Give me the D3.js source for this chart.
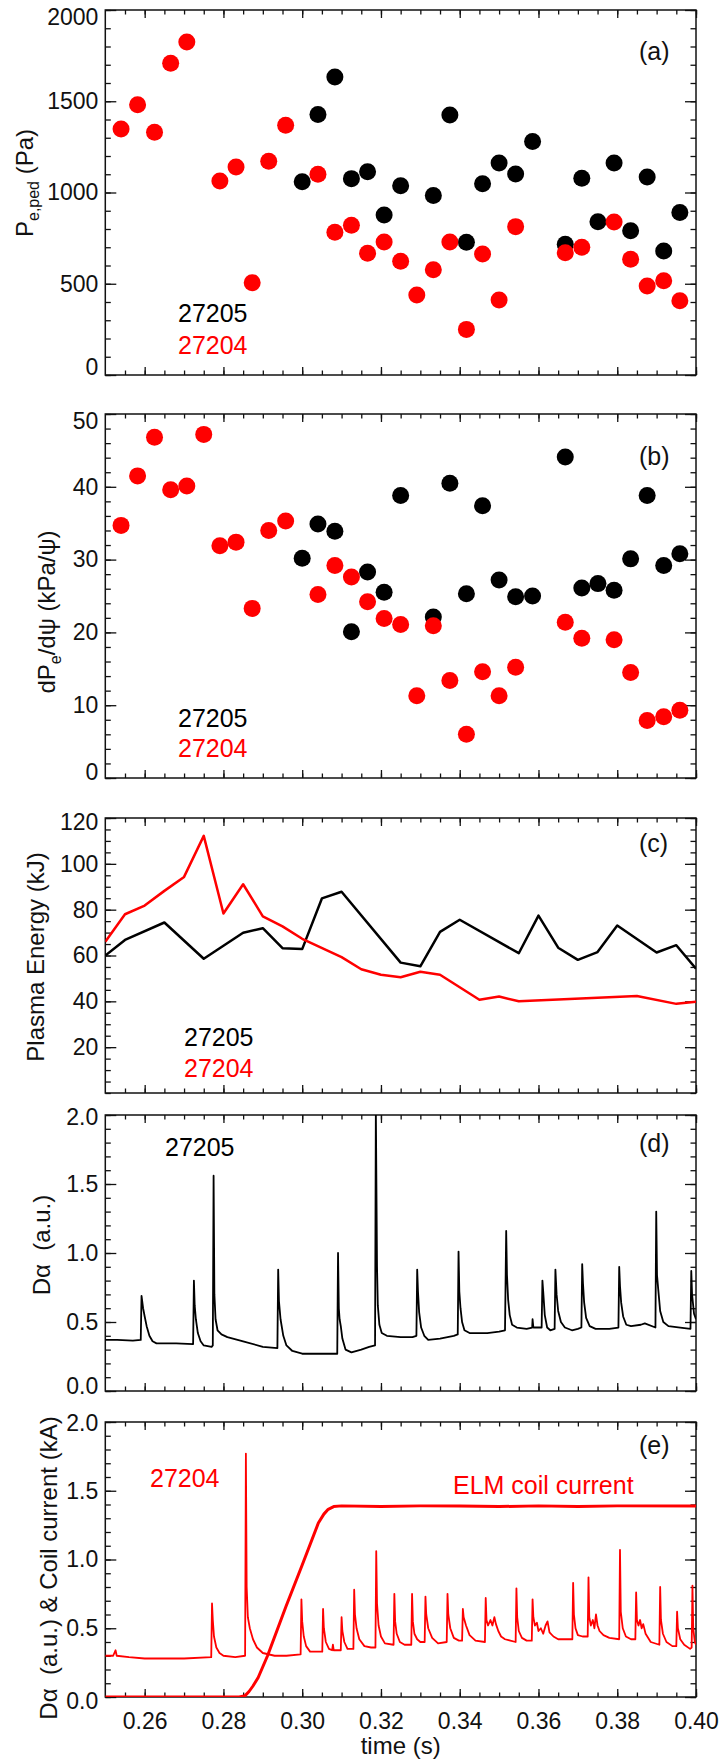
<!DOCTYPE html>
<html>
<head>
<meta charset="utf-8">
<script src="https://cdn.jsdelivr.net/npm/d3@7"></script>
<style>
  body { margin: 0; background: #fff; }
  svg { display: block; }
  text { white-space: pre; }
</style>
</head>
<body>
<svg id="chart" width="723" height="1762"></svg>
<script>
// shots
const shotRef = "27205";
const shotCoil = "27204";

// x axis (time, s)
const xDomain = [0.25, 0.40];
const xMajor = [0.26, 0.28, 0.30, 0.32, 0.34, 0.36, 0.38, 0.40];

// (a) P_e,ped (Pa) and (b) dPe/dpsi (kPa/psi) — ELM-resolved points
const t27205 = [0.3000, 0.3040, 0.3083, 0.3125, 0.3166, 0.3208, 0.3250, 0.3333, 0.3375, 0.3417, 0.3458,
  0.3500, 0.3542, 0.3585, 0.3668, 0.3710, 0.3751, 0.3792, 0.3834, 0.3876, 0.3918, 0.3959];
const pped27205 = [1059, 1428, 1633, 1076, 1114, 877, 1037, 984, 1425, 727, 1048,
  1162, 1101, 1279, 716, 1078, 840, 1162, 791, 1085, 679, 891];
const grad27205 = [30.2, 34.9, 33.9, 20.1, 28.3, 25.5, 38.8, 22.1, 40.5, 25.3, 37.4,
  27.2, 24.9, 25.0, 44.1, 26.1, 26.7, 25.8, 30.1, 38.8, 29.2, 30.8];

const tPped27204 = [0.2540, 0.2582, 0.2625, 0.2666, 0.2707, 0.2791, 0.2832, 0.2873, 0.2915, 0.2958,
  0.3040, 0.3083, 0.3125, 0.3166, 0.3208, 0.3250, 0.3291, 0.3333, 0.3375, 0.3417, 0.3458, 0.3500,
  0.3542, 0.3668, 0.3710, 0.3792, 0.3834, 0.3876, 0.3918, 0.3959];
const pped27204 = [1348, 1481, 1330, 1708, 1825, 1063, 1140, 506, 1171, 1368,
  1100, 782, 820, 667, 729, 623, 438, 577, 729, 250, 663, 411,
  813, 670, 700, 838, 634, 488, 517, 407];
const tGrad27204 = [0.2540, 0.2582, 0.2625, 0.2666, 0.2707, 0.2750, 0.2791, 0.2832, 0.2873, 0.2915, 0.2958,
  0.3040, 0.3083, 0.3125, 0.3166, 0.3208, 0.3250, 0.3291, 0.3333, 0.3375, 0.3417, 0.3458, 0.3500,
  0.3542, 0.3668, 0.3710, 0.3792, 0.3834, 0.3876, 0.3918, 0.3959];
const grad27204 = [34.7, 41.5, 46.8, 39.6, 40.1, 47.2, 31.9, 32.4, 23.3, 34.0, 35.3,
  25.2, 29.2, 27.6, 24.2, 21.9, 21.1, 11.3, 20.9, 13.4, 6.0, 14.6, 11.3,
  15.2, 21.4, 19.2, 19.0, 14.5, 7.9, 8.4, 9.3];

// (c) plasma energy (kJ)
const tWp27205 = [0.250, 0.255, 0.265, 0.275, 0.285, 0.290, 0.295, 0.300, 0.305, 0.310, 0.325, 0.330,
  0.335, 0.340, 0.355, 0.360, 0.365, 0.370, 0.375, 0.380, 0.390, 0.395, 0.400];
const wp27205 = [60.0, 66.8, 74.4, 58.6, 69.9, 71.9, 63.2, 62.8, 84.9, 87.8, 56.9, 55.3,
  70.3, 75.6, 61.0, 77.4, 63.4, 58.1, 61.5, 73.1, 61.3, 64.5, 54.2];
const tWp27204 = [0.250, 0.255, 0.260, 0.265, 0.270, 0.275, 0.280, 0.285, 0.290, 0.295, 0.300, 0.310,
  0.315, 0.320, 0.325, 0.330, 0.335, 0.345, 0.350, 0.355, 0.385, 0.395, 0.400];
const wp27204 = [66.0, 78.0, 81.8, 88.2, 94.3, 112.2, 78.3, 91.1, 77.1, 72.7, 67.3, 59.3,
  54.0, 51.6, 50.5, 52.9, 51.6, 40.7, 42.1, 40.0, 42.3, 38.9, 39.8];

// (d) D-alpha 27205 [t, a.u.]
const dalpha27205 = [
  [0.2500, 0.37], [0.2530, 0.37], [0.2570, 0.365], [0.2590, 0.37],
  [0.2592, 0.69], [0.2596, 0.60], [0.2600, 0.54], [0.2605, 0.47], [0.2612, 0.40], [0.2620, 0.36], [0.2630, 0.345],
  [0.2680, 0.345], [0.2723, 0.34],
  [0.2725, 0.80], [0.2727, 0.62], [0.2730, 0.52], [0.2735, 0.42], [0.2742, 0.36], [0.2750, 0.33], [0.2770, 0.32], [0.2773, 0.33],
  [0.2775, 1.56], [0.2777, 0.70], [0.2780, 0.52], [0.2785, 0.44], [0.2795, 0.41], [0.2810, 0.39], [0.2850, 0.36], [0.2900, 0.32], [0.2937, 0.31],
  [0.2939, 0.88], [0.2941, 0.65], [0.2945, 0.52], [0.2952, 0.40], [0.2960, 0.33], [0.2975, 0.29], [0.3000, 0.27], [0.3050, 0.27], [0.3089, 0.27],
  [0.3091, 1.00], [0.3093, 0.60], [0.3095, 0.52], [0.3098, 0.47], [0.3102, 0.38], [0.3110, 0.30], [0.3125, 0.28], [0.3150, 0.30], [0.3170, 0.32], [0.3185, 0.33],
  [0.3187, 2.05], [0.3190, 0.90], [0.3192, 0.62], [0.3196, 0.48], [0.3202, 0.42], [0.3215, 0.40], [0.3250, 0.39], [0.3280, 0.39], [0.3290, 0.40],
  [0.3292, 0.88], [0.3294, 0.72], [0.3297, 0.57], [0.3302, 0.46], [0.3310, 0.40], [0.3320, 0.37], [0.3350, 0.38], [0.3385, 0.40], [0.3395, 0.41],
  [0.3397, 1.01], [0.3399, 0.72], [0.3402, 0.60], [0.3406, 0.50], [0.3412, 0.44], [0.3425, 0.42], [0.3470, 0.42], [0.3500, 0.43], [0.3515, 0.44],
  [0.3518, 1.16], [0.3520, 0.84], [0.3523, 0.66], [0.3527, 0.55], [0.3533, 0.48], [0.3545, 0.46], [0.3570, 0.45], [0.3584, 0.46], [0.3585, 0.52], [0.3587, 0.46], [0.3608, 0.46],
  [0.3610, 0.80], [0.3612, 0.72], [0.3616, 0.55], [0.3622, 0.46], [0.3630, 0.44], [0.3641, 0.45],
  [0.3643, 0.88], [0.3646, 0.70], [0.3650, 0.58], [0.3657, 0.50], [0.3667, 0.46], [0.3685, 0.44], [0.3700, 0.45], [0.3709, 0.46],
  [0.3711, 0.92], [0.3713, 0.78], [0.3716, 0.64], [0.3721, 0.53], [0.3730, 0.47], [0.3745, 0.45], [0.3780, 0.45], [0.3803, 0.46],
  [0.3805, 0.90], [0.3807, 0.76], [0.3810, 0.64], [0.3815, 0.54], [0.3823, 0.48], [0.3835, 0.47], [0.3860, 0.48], [0.3870, 0.49], [0.3897, 0.46],
  [0.3899, 1.30], [0.3901, 0.84], [0.3904, 0.74], [0.3909, 0.58], [0.3917, 0.50], [0.3930, 0.47], [0.3960, 0.46], [0.3986, 0.45],
  [0.3988, 0.87], [0.3990, 0.70], [0.3995, 0.56], [0.4000, 0.52]
];

// (e) D-alpha 27204 [t, a.u.]
const dalpha27204 = [
  [0.2500, 0.30], [0.2520, 0.30], [0.2526, 0.34], [0.2529, 0.30], [0.2560, 0.29], [0.2600, 0.28], [0.2700, 0.28], [0.2769, 0.29],
  [0.2771, 0.68], [0.2773, 0.56], [0.2776, 0.44], [0.2782, 0.36], [0.2790, 0.32], [0.2800, 0.30], [0.2830, 0.29], [0.2855, 0.30],
  [0.2857, 1.77], [0.2859, 0.80], [0.2862, 0.58], [0.2867, 0.50], [0.2875, 0.42], [0.2885, 0.36], [0.2900, 0.32], [0.2930, 0.30], [0.2960, 0.30], [0.2996, 0.31],
  [0.2998, 0.71], [0.3000, 0.55], [0.3004, 0.44], [0.3010, 0.37], [0.3020, 0.33], [0.3051, 0.33],
  [0.3053, 0.64], [0.3055, 0.50], [0.3060, 0.40], [0.3068, 0.35], [0.3076, 0.34], [0.3078, 0.38], [0.3080, 0.34], [0.3098, 0.34],
  [0.3100, 0.58], [0.3102, 0.48], [0.3107, 0.40], [0.3115, 0.35], [0.3130, 0.35],
  [0.3132, 0.78], [0.3134, 0.60], [0.3138, 0.50], [0.3145, 0.42], [0.3158, 0.37], [0.3175, 0.36], [0.3186, 0.36],
  [0.3188, 1.06], [0.3190, 0.68], [0.3194, 0.52], [0.3200, 0.44], [0.3210, 0.39], [0.3232, 0.38],
  [0.3234, 0.75], [0.3236, 0.55], [0.3240, 0.46], [0.3248, 0.40], [0.3260, 0.38], [0.3277, 0.38],
  [0.3279, 0.75], [0.3281, 0.55], [0.3285, 0.46], [0.3292, 0.42], [0.3300, 0.40], [0.3311, 0.40],
  [0.3313, 0.73], [0.3315, 0.60], [0.3320, 0.50], [0.3330, 0.43], [0.3345, 0.39], [0.3367, 0.40],
  [0.3369, 0.75], [0.3371, 0.60], [0.3376, 0.50], [0.3385, 0.43], [0.3398, 0.41], [0.3406, 0.41],
  [0.3408, 0.64], [0.3410, 0.58], [0.3416, 0.52], [0.3425, 0.45], [0.3440, 0.41], [0.3464, 0.40],
  [0.3466, 0.72], [0.3468, 0.56], [0.3472, 0.52], [0.3478, 0.56], [0.3483, 0.52], [0.3488, 0.58], [0.3492, 0.53], [0.3498, 0.48], [0.3505, 0.44], [0.3515, 0.42], [0.3542, 0.40],
  [0.3544, 0.79], [0.3546, 0.58], [0.3550, 0.48], [0.3558, 0.43], [0.3570, 0.41], [0.3583, 0.41],
  [0.3585, 0.71], [0.3587, 0.58], [0.3591, 0.52], [0.3596, 0.54], [0.3600, 0.48], [0.3606, 0.50], [0.3612, 0.46], [0.3618, 0.52], [0.3623, 0.55], [0.3628, 0.47], [0.3638, 0.44], [0.3650, 0.42], [0.3686, 0.42],
  [0.3688, 0.83], [0.3690, 0.60], [0.3694, 0.50], [0.3700, 0.45], [0.3712, 0.44], [0.3725, 0.44],
  [0.3727, 0.87], [0.3729, 0.58], [0.3733, 0.52], [0.3738, 0.56], [0.3742, 0.50], [0.3746, 0.60], [0.3750, 0.52], [0.3755, 0.48], [0.3765, 0.45], [0.3780, 0.43], [0.3805, 0.42],
  [0.3807, 1.07], [0.3809, 0.62], [0.3814, 0.50], [0.3822, 0.44], [0.3835, 0.42], [0.3846, 0.42],
  [0.3848, 0.76], [0.3850, 0.56], [0.3854, 0.52], [0.3858, 0.56], [0.3862, 0.50], [0.3866, 0.53], [0.3872, 0.46], [0.3885, 0.40], [0.3907, 0.38],
  [0.3909, 0.80], [0.3911, 0.56], [0.3916, 0.46], [0.3925, 0.40], [0.3940, 0.37], [0.3950, 0.37],
  [0.3952, 0.62], [0.3954, 0.50], [0.3960, 0.42], [0.3970, 0.38], [0.3985, 0.35], [0.3989, 0.36],
  [0.3991, 0.81], [0.3993, 0.50], [0.3997, 0.40], [0.4000, 0.38]
];

// (e) ELM coil current (kA)
const coilCurrent = [
  [0.2500, 0.0], [0.2840, 0.0], [0.2855, 0.01], [0.2865, 0.04], [0.2875, 0.08], [0.2888, 0.14],
  [0.2912, 0.30], [0.2959, 0.66], [0.3000, 0.96], [0.3041, 1.265], [0.3055, 1.33], [0.3066, 1.365],
  [0.3080, 1.385], [0.3100, 1.39], [0.3200, 1.385], [0.3300, 1.39], [0.3400, 1.39], [0.3500, 1.385],
  [0.3600, 1.39], [0.3700, 1.385], [0.3800, 1.39], [0.4000, 1.39]
];

const FONT = '"Liberation Sans", Arial, Helvetica, sans-serif';
const RED = "#ff0000";
const INK = "#111";

const svg = d3.select("#chart").attr("font-family", FONT);
const x = d3.scaleLinear().domain(xDomain).range([105.3, 696]);
const xMinor = d3.range(0.255, 0.4001, 0.005);

// topShift / botShift nudge the end labels the way the original plot does
const panels = [
  { key: "a", top: 10, bottom: 375, domain: [0, 2000], major: [0, 500, 1000, 1500, 2000], minorStep: 100, fmt: d3.format("d"), tag: "(a)", tagY: 60, topShift: 7, botShift: -8 },
  { key: "b", top: 414, bottom: 778, domain: [0, 50], major: [0, 10, 20, 30, 40, 50], minorStep: 2, fmt: d3.format("d"), tag: "(b)", tagY: 465, topShift: 7, botShift: -6 },
  { key: "c", top: 818, bottom: 1093, domain: [0, 120], major: [20, 40, 60, 80, 100, 120], minorStep: 5, fmt: d3.format("d"), tag: "(c)", tagY: 852, topShift: 4, botShift: 0 },
  { key: "d", top: 1115, bottom: 1391, domain: [0, 2], major: [0, 0.5, 1, 1.5, 2], minorStep: 0.1, fmt: d3.format(".1f"), tag: "(d)", tagY: 1152, topShift: 2, botShift: -5 },
  { key: "e", top: 1422, bottom: 1697, domain: [0, 2], major: [0, 0.5, 1, 1.5, 2], minorStep: 0.1, fmt: d3.format(".1f"), tag: "(e)", tagY: 1454, topShift: 1, botShift: 4, xLabels: true }
];

function styleAxis(g) {
  g.select(".domain").remove();
  g.attr("font-family", FONT).attr("font-size", 23).attr("color", INK);
  g.selectAll("line").attr("stroke-width", 1.3);
  g.selectAll("text").attr("fill", INK);
}

function drawPanel(p) {
  const y = d3.scaleLinear().domain(p.domain).range([p.bottom, p.top]);
  const x0 = x.range()[0], x1 = x.range()[1];
  const minor = d3.range(p.domain[0], p.domain[1] + p.minorStep / 2, p.minorStep);
  const g = svg.append("g").attr("class", "panel-" + p.key);

  svg.append("clipPath").attr("id", "clip-" + p.key)
    .append("rect")
    .attr("x", x0).attr("y", p.top)
    .attr("width", x1 - x0).attr("height", p.bottom - p.top);

  // y ticks, both sides, pointing in
  g.append("g").attr("transform", `translate(${x0},0)`)
    .call(d3.axisLeft(y).tickValues(minor).tickSize(-5.5).tickFormat("")).call(styleAxis);
  g.append("g").attr("transform", `translate(${x0},0)`)
    .call(d3.axisLeft(y).tickValues(p.major).tickSize(-11).tickPadding(7).tickFormat(p.fmt)).call(styleAxis)
    .selectAll(".tick text")
    .attr("y", (d) => (d === p.domain[1] ? p.topShift : d === p.domain[0] ? p.botShift : 0));
  g.append("g").attr("transform", `translate(${x1},0)`)
    .call(d3.axisRight(y).tickValues(minor).tickSize(-5.5).tickFormat("")).call(styleAxis);
  g.append("g").attr("transform", `translate(${x1},0)`)
    .call(d3.axisRight(y).tickValues(p.major).tickSize(-11).tickFormat("")).call(styleAxis);

  // x ticks, top and bottom
  g.append("g").attr("transform", `translate(0,${p.top})`)
    .call(d3.axisTop(x).tickValues(xMinor).tickSize(-4.5).tickFormat("")).call(styleAxis);
  g.append("g").attr("transform", `translate(0,${p.top})`)
    .call(d3.axisTop(x).tickValues(xMajor).tickSize(-8).tickFormat("")).call(styleAxis);
  g.append("g").attr("transform", `translate(0,${p.bottom})`)
    .call(d3.axisBottom(x).tickValues(xMinor).tickSize(-4.5).tickFormat("")).call(styleAxis);
  g.append("g").attr("transform", `translate(0,${p.bottom})`)
    .call(d3.axisBottom(x).tickValues(xMajor).tickSize(-8).tickPadding(16)
      .tickFormat(p.xLabels ? d3.format(".2f") : "")).call(styleAxis);

  g.append("rect")
    .attr("x", x0).attr("y", p.top)
    .attr("width", x1 - x0).attr("height", p.bottom - p.top)
    .attr("fill", "none").attr("stroke", INK).attr("stroke-width", 1.5);

  g.append("text")
    .attr("x", 639).attr("y", p.tagY)
    .attr("font-size", 25).attr("fill", INK)
    .text(p.tag);

  const plot = g.append("g").attr("clip-path", `url(#clip-${p.key})`);
  return { g, y, plot };
}

const [pa, pb, pc, pd, pe] = panels.map(drawPanel);

function yTitle(panel, cx, cy, parts) {
  const t = panel.g.append("text")
    .attr("transform", `translate(${cx},${cy}) rotate(-90)`)
    .attr("text-anchor", "middle")
    .attr("font-size", 24)
    .attr("fill", INK);
  parts.forEach(([s, sub]) => {
    const ts = t.append("tspan").text(s);
    if (sub === 1) ts.attr("font-size", 16).attr("dy", 6);
    if (sub === -1) ts.attr("dy", -6);
  });
}

function legend(panel, lx, items) {
  items.forEach(([label, color, by]) => {
    panel.g.append("text")
      .attr("x", lx).attr("y", by)
      .attr("font-size", 25)
      .attr("fill", color)
      .text(label);
  });
}

function dots(panel, ts, vs, color) {
  panel.plot.append("g")
    .selectAll("circle")
    .data(ts.map((t, i) => [t, vs[i]]))
    .join("circle")
    .attr("cx", (d) => x(d[0]))
    .attr("cy", (d) => panel.y(d[1]))
    .attr("r", 8.5)
    .attr("fill", color);
}

function trace(panel, data, color, width) {
  const line = d3.line().x((d) => x(d[0])).y((d) => panel.y(d[1]));
  panel.plot.append("path")
    .datum(data)
    .attr("d", line)
    .attr("fill", "none")
    .attr("stroke", color)
    .attr("stroke-width", width)
    .attr("stroke-linejoin", "round");
}

// (a)
dots(pa, t27205, pped27205, "#000");
dots(pa, tPped27204, pped27204, RED);
yTitle(pa, 33, 183, [["P"], ["e,ped", 1], [" (Pa)", -1]]);
legend(pa, 178, [[shotRef, "#000", 322], [shotCoil, RED, 354]]);

// (b)
dots(pb, t27205, grad27205, "#000");
dots(pb, tGrad27204, grad27204, RED);
yTitle(pb, 55, 612, [["dP"], ["e", 1], ["/dψ (kPa/ψ)", -1]]);
legend(pb, 178, [[shotRef, "#000", 727], [shotCoil, RED, 757]]);

// (c)
trace(pc, tWp27205.map((t, i) => [t, wp27205[i]]), "#000", 2.5);
trace(pc, tWp27204.map((t, i) => [t, wp27204[i]]), RED, 2.5);
yTitle(pc, 44, 957, [["Plasma Energy (kJ)"]]);
legend(pc, 184, [[shotRef, "#000", 1046], [shotCoil, RED, 1077]]);

// (d)
trace(pd, dalpha27205, "#000", 1.8);
yTitle(pd, 50, 1245, [["Dα  (a.u.)"]]);
legend(pd, 165, [[shotRef, "#000", 1156]]);

// (e)
trace(pe, dalpha27204, RED, 1.8);
trace(pe, coilCurrent, RED, 3);
yTitle(pe, 57, 1568, [["Dα  (a.u.) & Coil current (kA)"]]);
legend(pe, 150, [[shotCoil, RED, 1487]]);
pe.g.append("text")
  .attr("x", 453).attr("y", 1494)
  .attr("font-size", 25).attr("fill", RED)
  .text("ELM coil current");

svg.append("text")
  .attr("x", (x.range()[0] + x.range()[1]) / 2)
  .attr("y", 1754)
  .attr("text-anchor", "middle")
  .attr("font-size", 24)
  .attr("fill", INK)
  .text("time (s)");
</script>
</body>
</html>
